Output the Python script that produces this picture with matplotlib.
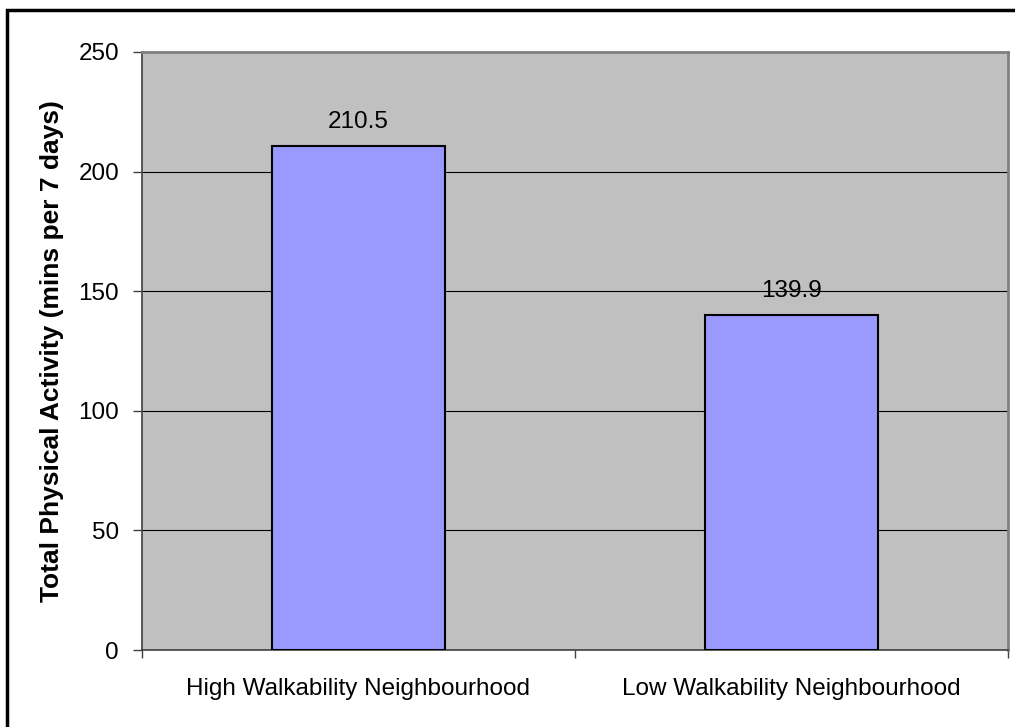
import matplotlib
matplotlib.use('Agg')
import matplotlib.pyplot as plt
from matplotlib.patches import Rectangle

# Walkability groups and mean activity minutes
categories = ['High Walkability Neighbourhood', 'Low Walkability Neighbourhood']
activity = [210.5, 139.9]
yticks = [0, 50, 100, 150, 200, 250]

plt.rcParams['font.family'] = ['Liberation Sans', 'DejaVu Sans']

fig = plt.figure(figsize=(10.15, 7.27), dpi=100)
ax = fig.add_axes([0.1399, 0.1059, 0.8532, 0.8226])

# outer chart frame
fig.patches.append(Rectangle((7 / 1015, -0.05), 1.1, 1 - 10 / 727 + 0.05,
                             transform=fig.transFigure, fill=False,
                             edgecolor='black', linewidth=2.5, zorder=0))

x = range(len(categories))
ax.set_facecolor('#c0c0c0')
bars = ax.bar(x, activity, width=0.4, color='#9999ff', edgecolor='black',
              linewidth=1.5, zorder=3)

for xi, v in zip(x, activity):
    ax.text(xi, v + 7.8, f'{v:.1f}', ha='center', va='baseline', fontsize=17.5, zorder=4)

ax.set_xlim(-0.5, len(categories) - 0.5)
ax.set_ylim(0, 250)
ax.set_yticks(yticks)
ax.yaxis.grid(True, color='black', linewidth=0.8, zorder=1)
ax.set_axisbelow(True)

# category ticks sit between the groups, labels centred under bars
ax.set_xticks([-0.5, 0.5, 1.5])
ax.set_xticklabels([])
ax.set_xticks(list(x), minor=True)
ax.set_xticklabels(categories, minor=True, fontsize=17.5)
ax.tick_params(axis='x', which='minor', length=0, pad=20)
ax.tick_params(axis='x', which='major', length=6, width=1, color='#404040')
ax.tick_params(axis='y', length=6.5, width=1, color='#404040', labelsize=17.5, pad=10)

for side in ['left', 'bottom']:
    ax.spines[side].set_color('#404040')
    ax.spines[side].set_linewidth(1.2)
for side in ['top', 'right']:
    ax.spines[side].set_color('#808080')
    ax.spines[side].set_linewidth(2)

ax.set_ylabel('Total Physical Activity (mins per 7 days)', fontsize=19,
              fontweight='bold', va='center')
ax.yaxis.set_label_coords(-0.104, 0.5)

fig.savefig('out.png', dpi=100)
